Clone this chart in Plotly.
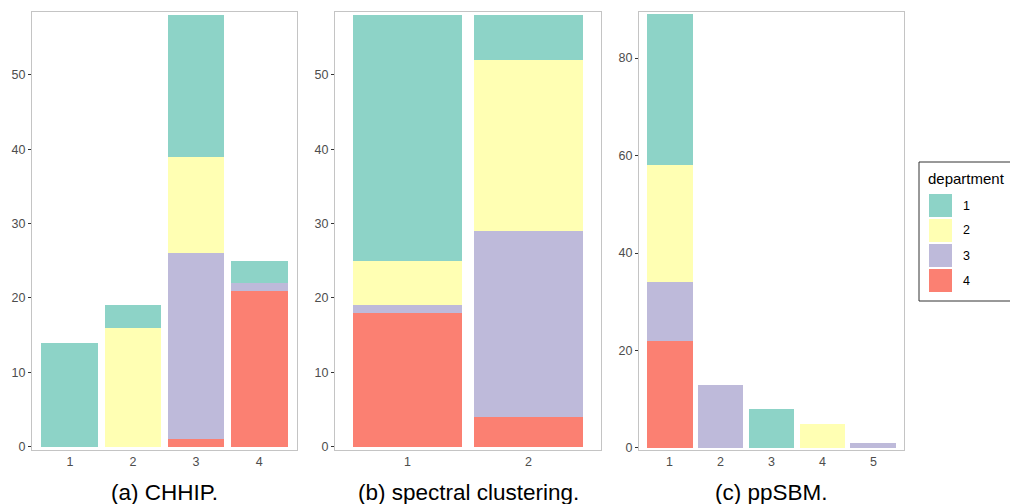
import plotly.graph_objects as go

W, H = 1010, 504

departments = ["1", "2", "3", "4"]
colors = ["#8DD3C7", "#FFFFB3", "#BEBADA", "#FB8072"]

# counts per cluster for each department (dept 1..4)
chhip_clusters = ["1", "2", "3", "4"]
chhip = {
    "1": [14, 3, 19, 3],
    "2": [0, 16, 13, 0],
    "3": [0, 0, 25, 1],
    "4": [0, 0, 1, 21],
}
spectral_clusters = ["1", "2"]
spectral = {
    "1": [33, 6],
    "2": [6, 23],
    "3": [1, 25],
    "4": [18, 4],
}
ppsbm_clusters = ["1", "2", "3", "4", "5"]
ppsbm = {
    "1": [31, 0, 8, 0, 0],
    "2": [24, 0, 0, 5, 0],
    "3": [12, 13, 0, 0, 1],
    "4": [22, 0, 0, 0, 0],
}
captions = ["(a) CHHIP.", "(b) spectral clustering.", "(c) ppSBM."]

panels = [
    (chhip_clusters, chhip, (32, 297), [-0.44, 58.45], [0, 10, 20, 30, 40, 50]),
    (spectral_clusters, spectral, (335, 601), [-0.44, 58.45], [0, 10, 20, 30, 40, 50]),
    (ppsbm_clusters, ppsbm, (639, 904), [-0.42, 89.45], [0, 20, 40, 60, 80]),
]

top_px, bot_px = 12, 450
fig = go.Figure()
layout = dict(
    width=W, height=H, margin=dict(l=0, r=0, t=0, b=0, pad=0, autoexpand=False),
    paper_bgcolor="white", plot_bgcolor="white",
    barmode="stack", bargap=0.1, showlegend=False,
    font=dict(family="Liberation Sans, Arial, sans-serif"),
)

for i, (cats, data, (x0, x1), yr, yt) in enumerate(panels):
    xa = "x" if i == 0 else f"x{i+1}"
    ya = "y" if i == 0 else f"y{i+1}"
    for d in reversed(range(4)):
        dep = departments[d]
        vals = data[dep]
        xs = [c for c, v in zip(cats, vals) if v > 0]
        ys = [v for v in vals if v > 0]
        fig.add_trace(go.Bar(
            x=xs, y=ys, name=dep, xaxis=xa, yaxis=ya,
            marker=dict(color=colors[d], line=dict(width=0)),
            width=0.9,
        ))
    n = len(cats)
    layout["xaxis" if i == 0 else f"xaxis{i+1}"] = dict(
        domain=[x0 / W, x1 / W], anchor=ya, type="category",
        categoryorder="array", categoryarray=cats,
        range=[-0.6, n - 0.4], automargin=False,
        showline=True, mirror=True, linecolor="#C4C4C4", linewidth=1,
        showgrid=False, zeroline=False, ticks="",
        tickfont=dict(size=12.5, color="#4D4D4D"), fixedrange=True,
    )
    layout["yaxis" if i == 0 else f"yaxis{i+1}"] = dict(
        domain=[1 - bot_px / H, 1 - top_px / H], anchor=xa,
        range=yr, tickvals=yt, automargin=False,
        showline=True, mirror=True, linecolor="#C4C4C4", linewidth=1,
        showgrid=False, zeroline=False, ticks="outside", ticklen=3,
        tickcolor="#333333", tickwidth=1,
        tickfont=dict(size=12.5, color="#4D4D4D"), fixedrange=True,
    )

annotations = []
for cap, (_, _, (x0, x1), _, _) in zip(captions, panels):
    annotations.append(dict(
        text=cap, x=(x0 + x1) / 2 / W, y=1 - 492 / H, xref="paper", yref="paper",
        showarrow=False, xanchor="center", yanchor="middle",
        font=dict(size=22.5, color="black"),
    ))

# legend (drawn manually)
shapes = [dict(type="rect", xref="paper", yref="paper",
               x0=919 / W, x1=1012 / W, y0=1 - 301 / H, y1=1 - 162 / H,
               line=dict(color="#333333", width=1), fillcolor="white", layer="below")]
annotations.append(dict(
    text="department", x=926 / W, y=1 - 178 / H, xref="paper", yref="paper",
    showarrow=False, xanchor="left", yanchor="middle",
    font=dict(size=15, color="black"),
))
for k, (dep, col) in enumerate(zip(departments, colors)):
    ty = 194 + 25 * k
    shapes.append(dict(type="rect", xref="paper", yref="paper",
                       x0=929 / W, x1=952 / W, y0=1 - (ty + 23) / H, y1=1 - ty / H,
                       line=dict(width=0), fillcolor=col))
    annotations.append(dict(
        text=dep, x=961 / W, y=1 - (ty + 11.5) / H, xref="paper", yref="paper",
        showarrow=False, xanchor="left", yanchor="middle",
        font=dict(size=12.5, color="black"),
    ))

layout["annotations"] = annotations
layout["shapes"] = shapes
fig.update_layout(**layout)
fig.write_html("out.html", config={"displayModeBar": False},
               post_script="document.body.style.margin='0';document.body.style.overflow='hidden';")
